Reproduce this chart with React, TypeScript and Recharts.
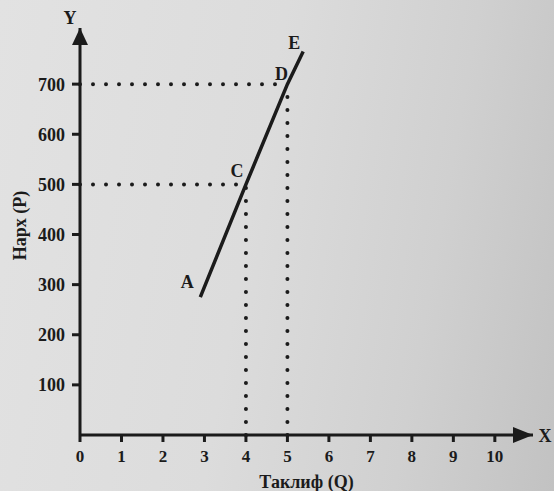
import React from "react";
import {
  LineChart,
  Line,
  XAxis,
  YAxis,
  ReferenceLine,
  ReferenceDot,
  LabelList,
} from "recharts";

// supply curve points A, C, D, E
const supplyQ = [2.9, 4, 5, 5.38];
const supplyP = [275, 500, 700, 765];
const pointNames = ["A", "C", "D", "E"];

const xTicks = [0, 1, 2, 3, 4, 5, 6, 7, 8, 9, 10];
const yTicks = [100, 200, 300, 400, 500, 600, 700];

// dotted guide lines: quantity and price of C and D
const guideQ = [4, 5];
const guideP = [500, 700];

const data = supplyQ.map((q, i) => ({ q, p: supplyP[i], name: pointNames[i] }));

const INK = "#1b1b1b";
const FONT = "'Liberation Serif', 'DejaVu Serif', serif";
const labelShift: Record<string, [number, number]> = {
  A: [-13, -9],
  C: [-9, -7],
  D: [-6, -4],
  E: [-9, -3],
};

const PointLabel = (props: any) => {
  const { x, y, value } = props;
  const [dx, dy] = labelShift[value] ?? [0, 0];
  return (
    <text
      x={x + dx}
      y={y + dy}
      textAnchor="middle"
      fontFamily={FONT}
      fontWeight="bold"
      fontSize={18}
      fill={INK}
    >
      {value}
    </text>
  );
};

const UpArrow = (props: any) => {
  const { cx, cy } = props;
  return (
    <g>
      <polygon
        points={`${cx},${cy} ${cx - 8},${cy + 17} ${cx + 8},${cy + 17}`}
        fill={INK}
      />
      <text
        x={cx - 10}
        y={cy - 4}
        textAnchor="middle"
        fontFamily={FONT}
        fontWeight="bold"
        fontSize={18}
        fill={INK}
      >
        Y
      </text>
    </g>
  );
};

const RightArrow = (props: any) => {
  const { cx, cy } = props;
  return (
    <g>
      <polygon
        points={`${cx},${cy} ${cx - 20},${cy - 8} ${cx - 20},${cy + 8}`}
        fill={INK}
      />
      <text
        x={cx + 12}
        y={cy + 7}
        textAnchor="middle"
        fontFamily={FONT}
        fontWeight="bold"
        fontSize={18}
        fill={INK}
      >
        X
      </text>
    </g>
  );
};

const tickStyle = {
  fontFamily: FONT,
  fontWeight: "bold" as const,
  fontSize: 17,
  fill: INK,
};

export default function App() {
  return (
    <div
      style={{
        position: "absolute",
        left: 0,
        top: 0,
        width: 554,
        height: 491,
        background:
          "linear-gradient(100deg, #e2e2e2 0%, #dcdcdc 45%, #d0d0d0 75%, #c2c2c2 100%)",
      }}
    >
      <LineChart
        width={554}
        height={491}
        data={data}
        margin={{ top: 28, right: 21, bottom: 0, left: 0 }}
      >
        <XAxis
          dataKey="q"
          type="number"
          domain={[0, 10.92]}
          ticks={xTicks}
          interval={0}
          allowDataOverflow
          height={56}
          axisLine={{ stroke: INK, strokeWidth: 3 }}
          tickLine={{ stroke: INK, strokeWidth: 3 }}
          tickSize={7}
          tickMargin={8}
          tick={tickStyle}
          label={{
            value: "Таклиф (Q)",
            position: "insideBottom",
            offset: 3,
            style: { ...tickStyle, fontSize: 18 },
          }}
        />
        <YAxis
          type="number"
          domain={[0, 812]}
          ticks={yTicks}
          interval={0}
          allowDataOverflow
          width={80}
          axisLine={{ stroke: INK, strokeWidth: 3 }}
          tickLine={{ stroke: INK, strokeWidth: 3 }}
          tickSize={8}
          tickMargin={7}
          tick={{ ...tickStyle, fontSize: 18 }}
          label={{
            value: "Нарх (P)",
            angle: -90,
            position: "insideLeft",
            offset: 20,
            dy: -6,
            style: { ...tickStyle, fontSize: 18, textAnchor: "middle" },
          }}
        />
        {guideQ.map((q, i) => (
          <ReferenceLine
            key={`v${q}`}
            segment={[
              { x: q, y: 0 },
              { x: q, y: guideP[i] },
            ]}
            stroke={INK}
            strokeWidth={4}
            strokeDasharray="0 13"
            strokeLinecap="round"
          />
        ))}
        {guideP.map((p, i) => (
          <ReferenceLine
            key={`h${p}`}
            segment={[
              { x: 0, y: p },
              { x: guideQ[i], y: p },
            ]}
            stroke={INK}
            strokeWidth={4}
            strokeDasharray="0 13"
            strokeLinecap="round"
          />
        ))}
        <Line
          dataKey="p"
          type="linear"
          stroke={INK}
          strokeWidth={3.5}
          dot={false}
          isAnimationActive={false}
        >
          <LabelList dataKey="name" content={PointLabel} />
        </Line>
        <ReferenceDot x={0} y={812} ifOverflow="visible" shape={UpArrow} />
        <ReferenceDot x={10.92} y={0} ifOverflow="visible" shape={RightArrow} />
      </LineChart>
    </div>
  );
}
